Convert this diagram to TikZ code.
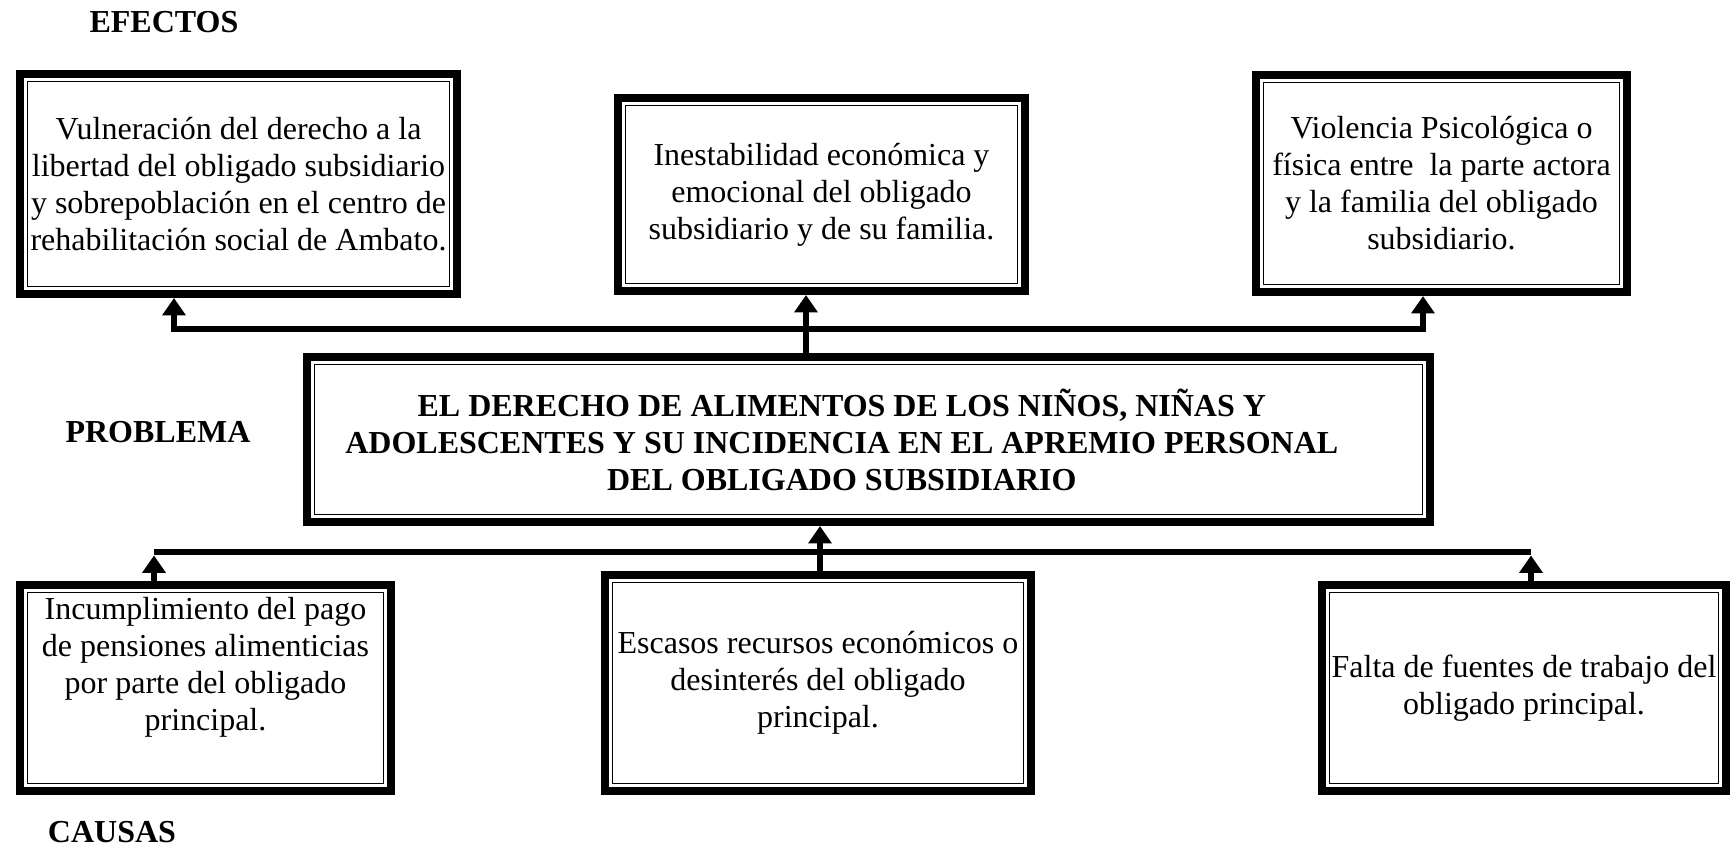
\documentclass[tikz,border=0pt]{standalone}
\usepackage{fontspec}
\setmainfont{Liberation Serif}
\usetikzlibrary{arrows.meta}

\begin{document}
\begin{tikzpicture}[x=0.375pt,y=-0.375pt,>={Triangle[width=8.5pt,length=6.5pt]},
  line width=2.6pt,font=\fontsize{12}{13.9}\selectfont]
  \tikzstyle{caja}=[draw,line width=3pt,align=center,inner sep=0pt]
  \tikzstyle{rotulo}=[font=\fontsize{12}{13.9}\selectfont\bfseries]

  \useasboundingbox (0,0) rectangle (1730,853);

  % rotulos
  \node[rotulo] (efectos)  at (164,22)  {EFECTOS};
  \node[rotulo] (problema) at (158,432) {PROBLEMA};
  \node[rotulo] (causas)   at (112,832) {CAUSAS};

  % efectos
  \node[caja,minimum width=163.9pt,minimum height=82.5pt] (e1) at (238.5,184)
    {Vulneración del derecho a la\\libertad del obligado subsidiario\\
     y sobrepoblación en el centro de\\rehabilitación social de Ambato.};
  \node[caja,minimum width=152.6pt,minimum height=72.4pt] (e2) at (821.5,194.5)
    {Inestabilidad económica y\\emocional del obligado\\subsidiario y de su familia.};
  \node[caja,minimum width=139.1pt,minimum height=81.4pt] (e3) at (1441.5,183.5)
    {Violencia Psicológica o\\física entre\ \ la parte actora\\
     y la familia del obligado\\subsidiario.};

  % problema
  \node[caja,font=\fontsize{12}{13.9}\selectfont\bfseries,
    minimum width=421.1pt,minimum height=61.9pt] (centro) at (868.5,439.5)
    {EL DERECHO DE ALIMENTOS DE LOS NIÑOS, NIÑAS Y\rule{20pt}{0pt}\\
     ADOLESCENTES Y SU INCIDENCIA EN EL APREMIO PERSONAL\rule{20pt}{0pt}\\
     DEL OBLIGADO SUBSIDIARIO\rule{20pt}{0pt}};

  % causas
  \node[caja,minimum width=139.1pt,minimum height=77.3pt,text depth=18pt] (c1) at (205.5,688)
    {Incumplimiento del pago\\de pensiones alimenticias\\por parte del obligado\\principal.};
  \node[caja,minimum width=159.8pt,minimum height=81pt] (c2) at (818,683)
    {Escasos recursos económicos o\\desinterés del obligado\\principal.};
  \node[caja,minimum width=151.5pt,minimum height=77.3pt] (c3) at (1524,688)
    {Falta de fuentes de trabajo del\\obligado principal.};

  % linea fina interior
  \foreach \n in {e1,e2,e3,centro,c1,c2,c3}
    \draw[line width=0.6pt] ([xshift=4.3pt,yshift=-4.3pt]\n.north west) rectangle
      ([xshift=-4.3pt,yshift=4.3pt]\n.south east);

  \coordinate (bt1) at (174,329);
  \coordinate (bt2) at (806,329);
  \coordinate (bt3) at (1423,329);
  \coordinate (bb1) at (154,552);
  \coordinate (bb2) at (820,552);
  \coordinate (bb3) at (1531,552);

  \draw[->] (centro.north -| bt2) -- (e2.south -| bt2);
  \draw[->] (bt2) -- (bt1) -- (e1.south -| bt1);
  \draw[->] (bt2) -- (bt3) -- (e3.south -| bt3);

  \draw (bb1) -- (bb3);
  \draw[->] (c2.north -| bb2) -- (centro.south -| bb2);
  \draw[->,shorten >=1.3pt] (c1.north -| bb1) -- (bb1);
  \draw[->,shorten >=1.3pt] (c3.north -| bb3) -- (bb3);
\end{tikzpicture}
\end{document}
